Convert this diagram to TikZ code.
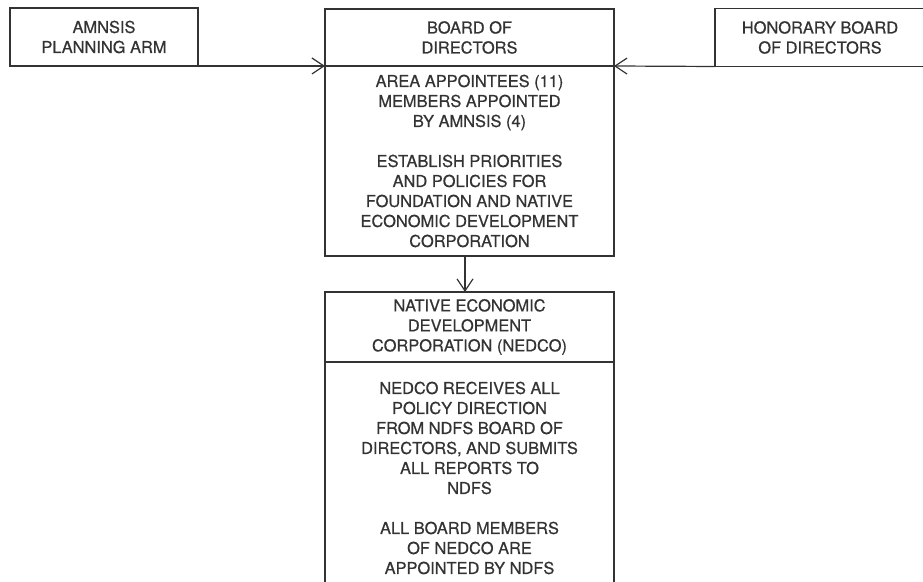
\documentclass[tikz,border=0pt]{standalone}
\usepackage{fontspec}
\setmainfont{TeX Gyre Heros}
\newfontfamily\chartfont[FakeBold=0.6]{TeX Gyre Heros}
\usetikzlibrary{arrows.meta,positioning}
\definecolor{ink}{HTML}{333333}
\tikzset{%
	block/.style  = {draw=ink, rectangle, outer sep=0pt, inner sep=0pt, align=center, text=ink, font=\chartfont\fontsize{8.2}{10}\selectfont},
	head/.style   = {block, minimum width=144.5pt, minimum height=28.5pt}, % title part
	side/.style   = {block, minimum height=29pt}, % outer boxes
	arrow/.style  = {draw=ink, -{Straight Barb[length=6pt,width=8pt]}},
}

\begin{document}
\begin{tikzpicture}[x=0.5pt,y=-0.5pt,line width=0.6pt]
	\useasboundingbox (0,0) rectangle (923,582);
	\clip (0,0) rectangle (923,582);
	\node [head] (board) at (469.5,37.5) {BOARD OF\\DIRECTORS};
	\node [block, minimum width=144.5pt, minimum height=95pt] (boardbody) [below=0pt of board]
		{AREA APPOINTEES (11)\\MEMBERS APPOINTED\\BY AMNSIS (4)\\[10pt]
		 ESTABLISH PRIORITIES\\AND POLICIES FOR\\FOUNDATION AND NATIVE\\ECONOMIC DEVELOPMENT\\CORPORATION};
	\node [side, minimum width=94pt] (amnsis) at (104,37) {AMNSIS\\PLANNING ARM};
	\node [side, minimum width=105pt] (honorary) at (820,37.5) {HONORARY BOARD\\OF DIRECTORS};
	\node [head, minimum height=35pt] (nedco) [below=18pt of boardbody]
		{NATIVE ECONOMIC\\DEVELOPMENT\\CORPORATION (NEDCO)};
	\node [block, minimum width=144.5pt, minimum height=116pt] (nedcobody) [below=0pt of nedco]
		{NEDCO RECEIVES ALL\\POLICY DIRECTION\\FROM NDFS BOARD OF\\DIRECTORS, AND SUBMITS\\ALL REPORTS TO\\NDFS\\[10pt]
		 ALL BOARD MEMBERS\\OF NEDCO ARE\\APPOINTED BY NDFS};

	\draw[arrow] (amnsis.south east) -- (board.south west);
	\draw[arrow] (honorary.south west) -- (board.south east);
	\draw[arrow] ([xshift=-2.25pt]boardbody.south) -- ([xshift=-2.25pt]nedco.north);
\end{tikzpicture}
\end{document}
